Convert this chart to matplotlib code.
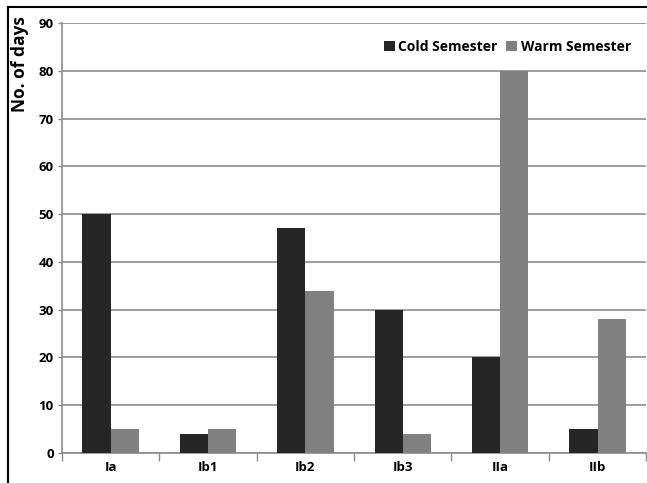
import numpy as np
import matplotlib.pyplot as plt
from matplotlib.lines import Line2D

# chart data
categories = ['Ia', 'Ib1', 'Ib2', 'Ib3', 'IIa', 'IIb']
cold = [50, 4, 47, 30, 20, 5]
warm = [5, 5, 34, 4, 80, 28]

plt.rcParams['font.family'] = ['Open Sans', 'DejaVu Sans']

fig = plt.figure(figsize=(6.47, 4.83), dpi=100)
ax = fig.add_axes([0.0958, 0.0621, 0.9030, 0.8903])

x = np.arange(len(categories))
w = 0.29
ax.bar(x - w / 2, cold, w, color='#262626', label='Cold Semester', zorder=3)
ax.bar(x + w / 2, warm, w, color='#808080', label='Warm Semester', zorder=3)

ax.set_xlim(-0.5, len(categories) - 0.5)
ax.set_ylim(0, 90)
ax.set_yticks(range(0, 91, 10))
ax.yaxis.grid(True, color='#8c8c8c', linewidth=1.2, zorder=0)

# category ticks sit on the boundaries, labels in the middle
ax.set_xticks(np.arange(-0.5, len(categories)), minor=False)
ax.set_xticklabels([])
ax.set_xticks(x, minor=True)
ax.set_xticklabels(categories, minor=True, fontweight='bold', fontsize=9.5)
ax.tick_params(axis='x', which='major', length=6, color='#8c8c8c', width=1)
ax.tick_params(axis='x', which='minor', length=0, pad=6)
ax.tick_params(axis='y', length=3, color='#8c8c8c', width=1, labelsize=9.5, pad=3)
for lab in ax.get_yticklabels():
    lab.set_fontweight('bold')

for s in ['top', 'right']:
    ax.spines[s].set_visible(False)
ax.spines['left'].set_color('#8c8c8c')
ax.spines['bottom'].set_color('#8c8c8c')
ax.spines['left'].set_linewidth(1.2)
ax.spines['bottom'].set_linewidth(1.2)

fig.text(20 / 647, 1 - 16 / 483, 'No. of days', rotation=90, ha='center', va='top',
         fontsize=12.5, fontweight='bold')

leg = ax.legend(loc='upper right', bbox_to_anchor=(0.995, 0.99), frameon=False,
                ncol=2, handlelength=0.8, handleheight=0.8, handletextpad=0.25,
                columnspacing=0.6, prop={'weight': 'bold', 'size': 10})

# black frame of the picture (top and left edges)
fig.add_artist(Line2D([8 / 647, 8 / 647], [0, 1 - 7 / 483], color='black', linewidth=1.5))
fig.add_artist(Line2D([8 / 647, 1], [1 - 7 / 483, 1 - 7 / 483], color='black', linewidth=1.5))

plt.savefig('out.png')
